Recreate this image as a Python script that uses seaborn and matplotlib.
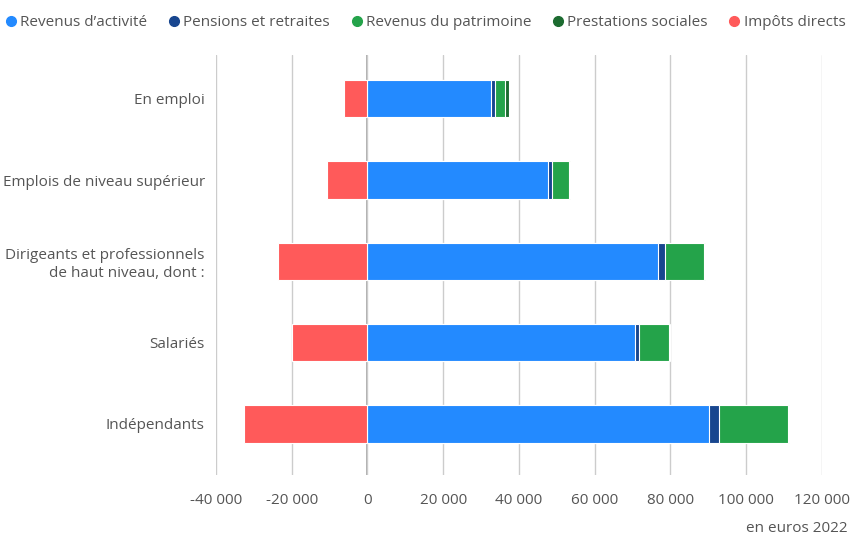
import pandas as pd
import seaborn as sns
import matplotlib.pyplot as plt
from matplotlib.ticker import FuncFormatter
from matplotlib.lines import Line2D

sns.set_style('white')
plt.rcParams['font.family'] = ['Open Sans', 'DejaVu Sans']

categories = ['En emploi', 'Emplois de niveau supérieur',
              'Dirigeants et professionnels\nde haut niveau, dont :',
              'Salariés', 'Indépendants']
revenus_activite = [32700, 47800, 76800, 70700, 90100]
pensions = [900, 800, 1650, 1050, 2800]
patrimoine = [2700, 4600, 10400, 7750, 18100]
prestations = [1150, 350, 300, 350, 200]
impots = [-6300, -10800, -23600, -19900, -32700]

series = ['Revenus d’activité', 'Pensions et retraites', 'Revenus du patrimoine',
          'Prestations sociales', 'Impôts directs']
colors = ['#238AFF', '#18468F', '#24A34A', '#1C6B30', '#FF5A5A']

df = pd.DataFrame({'cat': categories, 'act': revenus_activite, 'pen': pensions,
                   'pat': patrimoine, 'pre': prestations, 'imp': impots})
# cumulative totals, drawn from the longest to the shortest so they look stacked
df['c4'] = df['act'] + df['pen'] + df['pat'] + df['pre']
df['c3'] = df['act'] + df['pen'] + df['pat']
df['c2'] = df['act'] + df['pen']
df['c1'] = df['act']
long = df.melt(id_vars='cat', value_vars=['c4', 'c3', 'c2', 'c1', 'imp'], var_name='s', value_name='v')
pal = {'c4': colors[3], 'c3': colors[2], 'c2': colors[1], 'c1': colors[0], 'imp': colors[4]}

fig = plt.figure(figsize=(8.5, 5.38), dpi=100)
ax = fig.add_axes([0.254, 0.117, 0.713, 0.781])
sns.barplot(data=long, y='cat', x='v', hue='s', hue_order=['c4', 'c3', 'c2', 'c1', 'imp'],
            palette=pal, dodge=False, width=0.46, orient='h', ax=ax,
            edgecolor='white', linewidth=0.8, legend=False, saturation=1)

ax.set_xlim(-40000, 120000)
ax.set_ylim(4.63, -0.54)
ax.set_xticks(range(-40000, 120001, 20000))
ax.xaxis.set_major_formatter(FuncFormatter(lambda v, p: f'{int(v):,}'.replace(',', ' ')))
ax.grid(axis='x', color='#cccccc', linewidth=1)
ax.axvline(0, color='#a0a0a0', linewidth=1.2, zorder=0.5)
ax.set_axisbelow(True)
for s in ax.spines.values():
    s.set_visible(False)
ax.tick_params(axis='both', length=0, labelsize=11, labelcolor='#555555')
ax.tick_params(axis='x', pad=13)
ax.tick_params(axis='y', pad=8)
ax.set_xlabel('')
ax.set_ylabel('')
for lab in ax.get_yticklabels():
    lab.set_horizontalalignment('right')

handles = [Line2D([], [], marker='o', linestyle='', color=c, markersize=7) for c in colors]
fig.legend(handles, series, loc='upper left', bbox_to_anchor=(-0.014, 0.997), ncol=5, frameon=False,
           handletextpad=0.0, columnspacing=1.15, fontsize=11, labelcolor='#555555', handlelength=1.2)
fig.text(0.997, 0.004, 'en euros 2022', ha='right', va='bottom', fontsize=11, color='#555555')

plt.savefig('out.png', dpi=100)
